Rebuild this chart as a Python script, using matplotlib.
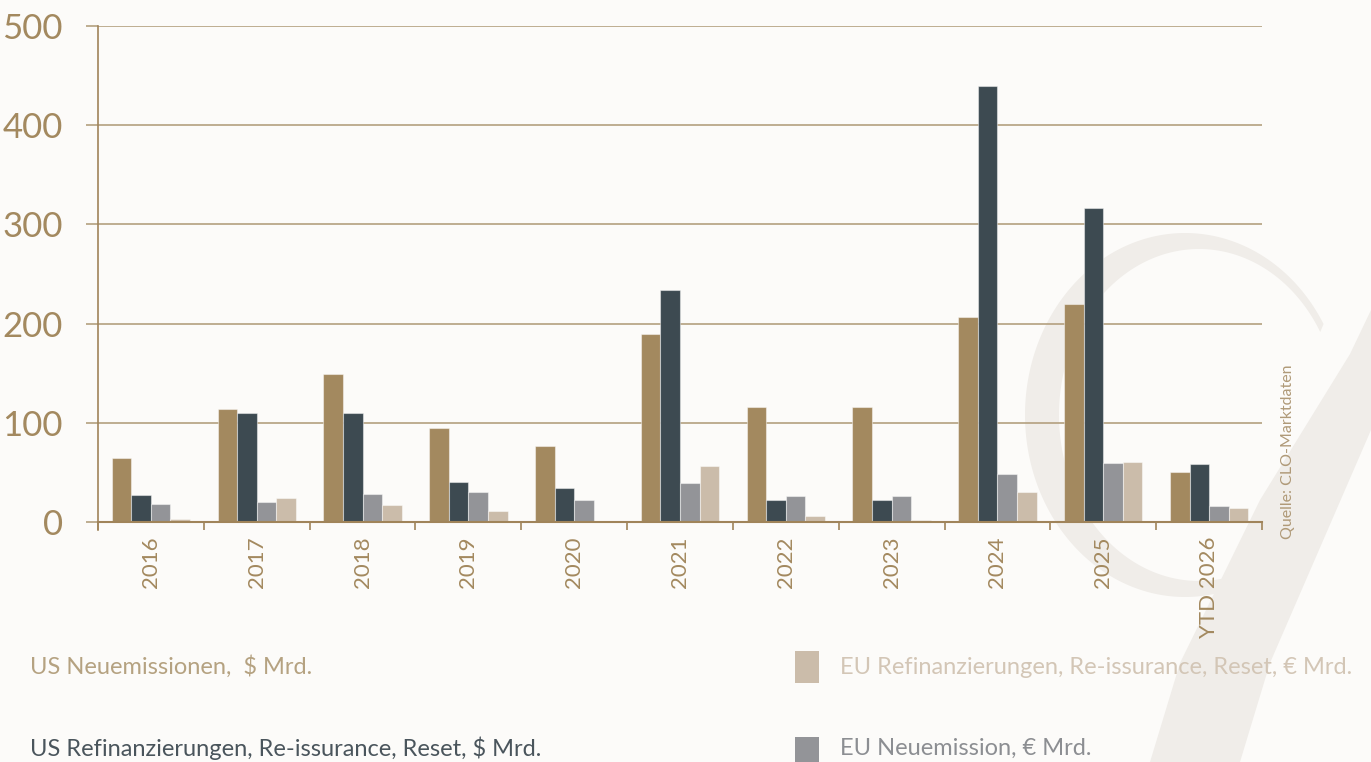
import matplotlib
matplotlib.use('Agg')
import matplotlib.pyplot as plt
from matplotlib.patches import Polygon, Rectangle
import numpy as np

categories = ['2016', '2017', '2018', '2019', '2020', '2021', '2022', '2023', '2024', '2025', 'YTD 2026']
us_new = [65, 114, 149, 95, 77, 190, 116, 116, 207, 220, 50]
us_refi = [27, 110, 110, 40, 34, 234, 22, 22, 440, 317, 58]
eu_new = [18, 20, 28, 30, 22, 39, 26, 26, 48, 59, 16]
eu_refi = [3, 24, 17, 11, 1, 56, 6, 2, 30, 60, 14]

series_labels = ['US Neuemissionen,  $ Mrd.',
                 'US Refinanzierungen, Re-issurance, Reset, $ Mrd.',
                 'EU Neuemission, € Mrd.',
                 'EU Refinanzierungen, Re-issurance, Reset, € Mrd.']
yticks = [0, 100, 200, 300, 400, 500]
source_text = 'Quelle: CLO-Marktdaten'

C_TAN = '#a3895f'
C_DARK = '#3d4a51'
C_GREY = '#939498'
C_BEIGE = '#cbbcaa'
BG = '#fcfbf9'
AXC = '#a0845a'
GRIDC = '#b3a07f'
WM = '#f0ede9'

plt.rcParams['font.family'] = ['Lato', 'DejaVu Sans']
PT = 0.72  # points per pixel at dpi 100

W, H = 1371, 762
fig = plt.figure(figsize=(W / 100, H / 100), dpi=100, facecolor=BG)

# decorative watermark (pixel coordinates)
wm = fig.add_axes([0, 0, 1, 1], zorder=0)
wm.set_xlim(0, W)
wm.set_ylim(H, 0)
wm.axis('off')
th = np.radians(np.linspace(30, 290, 200))
outer = np.column_stack([1185 + 160 * np.cos(th), 415 - 182 * np.sin(th)])
inner = np.column_stack([1199 + 140 * np.cos(th), 415 - 166 * np.sin(th)])[::-1]
wm.add_patch(Polygon(np.vstack([outer, inner]), closed=True, facecolor=WM, edgecolor='none'))
wm.add_patch(Polygon([(1150, 762), (1180, 663), (1260, 500), (1350, 354), (1371, 310),
                      (1371, 430), (1270, 663), (1240, 762)], closed=True,
                     facecolor=WM, edgecolor='none'))

# main axes
x0, x1 = 98, 1262
y_top, y_bot = 26, 522
ax = fig.add_axes([x0 / W, 1 - y_bot / H, (x1 - x0) / W, (y_bot - y_top) / H], zorder=1)
ax.set_facecolor('none')

n = len(categories)
x = np.arange(n)
bw = 0.185
colors = [C_TAN, C_DARK, C_GREY, C_BEIGE]
data = [us_new, us_refi, eu_new, eu_refi]
for i, (vals, col) in enumerate(zip(data, colors)):
    ax.bar(x + (i - 1.5) * bw, vals, width=bw, color=col,
           edgecolor=(1, 1, 1, 0.45), linewidth=0.8, zorder=3)

ax.set_xlim(-0.5, n - 0.5)
ax.set_ylim(0, 500)
ax.set_yticks(yticks)
ax.set_yticklabels([str(v) for v in yticks], fontsize=25, color=C_TAN)
ax.yaxis.grid(True, color=GRIDC, linewidth=1.2, zorder=1)
ax.tick_params(axis='y', length=12 * PT, width=1.2, color=GRIDC, pad=23 * PT)

# category boundary ticks (major), labels at centers (minor)
ax.set_xticks(np.arange(-0.5, n, 1.0))
ax.set_xticklabels([])
ax.tick_params(axis='x', which='major', length=8 * PT, width=1.2, color=AXC)
ax.set_xticks(x, minor=True)
ax.set_xticklabels(categories, minor=True, rotation=90, fontsize=16, color=C_TAN)
ax.tick_params(axis='x', which='minor', length=0, pad=14 * PT)

for s in ['top', 'right']:
    ax.spines[s].set_visible(False)
ax.spines['left'].set_color(AXC)
ax.spines['left'].set_linewidth(1.2)
ax.spines['left'].set_bounds(-8, 500)
ax.spines['bottom'].set_color(AXC)
ax.spines['bottom'].set_linewidth(1.5)
ax.spines['left'].set_zorder(4)
ax.spines['bottom'].set_zorder(4)

# source
fig.text(1288 / W, 1 - 452 / H, source_text, rotation=90, ha='center', va='center',
         fontsize=11.5, color='#b09a78')

# legend-like labels
def px(xp, yp):
    return xp / W, 1 - yp / H

fig.text(*px(30, 667), series_labels[0], ha='left', va='center', fontsize=17,
         color='#b5a281')
fig.text(*px(30, 748), series_labels[1], ha='left', va='center', fontsize=17,
         color='#4a555c')
lg = fig.add_axes([0, 0, 1, 1], zorder=2)
lg.set_xlim(0, W)
lg.set_ylim(H, 0)
lg.axis('off')
lg.add_patch(Rectangle((795, 651), 24, 32, facecolor=C_BEIGE, edgecolor='none'))
lg.add_patch(Rectangle((795, 737), 24, 32, facecolor=C_GREY, edgecolor='none'))
fig.text(*px(840, 667), series_labels[3], ha='left', va='center', fontsize=17,
         color='#d3c6b6')
fig.text(*px(840, 748), series_labels[2], ha='left', va='center', fontsize=17,
         color='#8c8e92')

fig.savefig('out.png', dpi=100, facecolor=BG)
